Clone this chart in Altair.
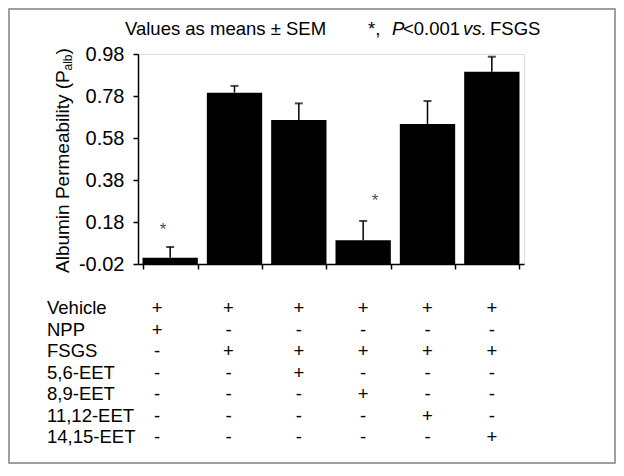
import altair as alt
import pandas as pd

# ---- data ----
groups = ["NPP", "FSGS", "FSGS+5,6-EET", "FSGS+8,9-EET", "FSGS+11,12-EET", "FSGS+14,15-EET"]
means = [0.010, 0.796, 0.666, 0.093, 0.647, 0.896]
sems = [0.051, 0.032, 0.079, 0.092, 0.109, 0.071]
star_groups = ["NPP", "FSGS+8,9-EET"]
star_levels = [0.162, 0.298]

rows = ["Vehicle", "NPP", "FSGS", "5,6-EET", "8,9-EET", "11,12-EET", "14,15-EET"]
signs = [
    ["+", "+", "+", "+", "+", "+"],
    ["+", "-", "-", "-", "-", "-"],
    ["-", "+", "+", "+", "+", "+"],
    ["-", "-", "+", "-", "-", "-"],
    ["-", "-", "-", "+", "-", "-"],
    ["-", "-", "-", "-", "+", "-"],
    ["-", "-", "-", "-", "-", "+"],
]
y_ticks = [-0.02, 0.18, 0.38, 0.58, 0.78, 0.98]

FONT = "Liberation Sans"
W, H = 386, 210

bars_df = pd.DataFrame({"group": groups, "mean": means, "sem": sems})
bars_df["upper"] = bars_df["mean"] + bars_df["sem"]
bars_df["base"] = y_ticks[0]
stars_df = pd.DataFrame({"group": star_groups, "level": star_levels})
table_df = pd.DataFrame(
    [{"row": r, "group": g, "sign": signs[i][j], "col": j}
     for i, r in enumerate(rows) for j, g in enumerate(groups)]
)
rows_df = pd.DataFrame({"row": rows})

xscale = alt.Scale(domain=groups, paddingInner=0.14, paddingOuter=0.07)
yscale = alt.Scale(domain=[y_ticks[0], y_ticks[-1]], nice=False, zero=False)
x_enc = alt.X("group:N", scale=xscale, sort=groups,
              axis=alt.Axis(labels=False, title=None, tickBand="extent", tickSize=5,
                            tickColor="black", tickWidth=1.5, domainColor="black",
                            domainWidth=1.5, grid=False))

base = alt.Chart(bars_df)
bars = base.mark_bar(color="black").encode(
    x=x_enc,
    y=alt.Y("mean:Q", scale=yscale,
            axis=alt.Axis(values=y_ticks, title=None, grid=False,
                          labelExpr="datum.value < 0 ? '-' + format(-datum.value, '.2f') : format(datum.value, '.2f')",
                          tickSize=5, tickColor="black", tickWidth=1.5,
                          domainColor="black", domainWidth=1.5, labelPadding=9,
                          labelFont=FONT, labelFontSize=20, labelColor="black")),
    y2="base:Q",
)
err = base.mark_rule(color="black", strokeWidth=1.5).encode(
    x=alt.X("group:N", scale=xscale, sort=groups), y="mean:Q", y2="upper:Q")
caps = base.mark_tick(color="black", orient="horizontal", size=8, thickness=2).encode(
    x=alt.X("group:N", scale=xscale, sort=groups), y="upper:Q")


def star(g, dx):
    return alt.Chart(stars_df).transform_filter(alt.datum.group == g).mark_text(
        text="*", font=FONT, fontSize=17, color="#505050", baseline="alphabetic", dy=9, dx=dx
    ).encode(x=alt.X("group:N", scale=xscale, sort=groups), y=alt.Y("level:Q", scale=yscale))


plot = alt.layer(bars, err, caps, star(star_groups[0], -7), star(star_groups[1], 12))

# ---- treatment table below the plot ----
row_scale = alt.Scale(type="point", domain=rows, range=[254, 383], padding=0)


def sign_layer(cols, dx):
    return alt.Chart(table_df).transform_filter(
        alt.FieldOneOfPredicate(field="col", oneOf=cols)
    ).mark_text(font=FONT, fontSize=18.5, color="black", baseline="middle", dx=dx).encode(
        x=alt.X("group:N", scale=xscale, sort=groups),
        y=alt.Y("row:N", scale=row_scale, axis=None),
        text="sign:N",
    )


row_labels = alt.Chart(rows_df).mark_text(
    font=FONT, fontSize=18.5, color="black", align="left", baseline="middle"
).encode(x=alt.value(-91), y=alt.Y("row:N", scale=row_scale, axis=None), text="row:N")

table = alt.layer(sign_layer([0], -13), sign_layer([1], -6), sign_layer([2, 3, 4, 5], 0), row_labels)


# ---- title and y-axis title pieces ----
def label(txt, x, y, size=18.5, style="normal", angle=0, align="left"):
    return alt.Chart(alt.Data(values=[{}])).mark_text(
        text=txt, font=FONT, fontSize=size, fontStyle=style, color="black",
        align=align, baseline="alphabetic", angle=angle,
    ).encode(x=alt.value(x), y=alt.value(y))


ty = -19
title = [
    label("Values as means \u00b1 SEM", -13, ty),
    label("*,", 230, ty),
    label("P", 254, ty, style="italic"),
    label("<0.001", 265, ty),
    label("vs.", 325, ty, style="italic"),
    label("FSGS", 352, ty),
]
ytitle = [
    label("Albumin Permeability (P", -68.7, 219, size=19, angle=270),
    label("alb", -66, 16.5, size=12, angle=270),
    label(")", -68.7, 0.5, size=19, angle=270),
]

border = alt.Chart(alt.Data(values=[{}])).mark_rect(
    fill=None, stroke="#808080", strokeWidth=1.5
).encode(x=alt.value(-129), x2=alt.value(W + 91), y=alt.value(-45), y2=alt.value(H + 199))

chart = alt.layer(plot, table, *title, *ytitle, border).resolve_scale(
    y="independent"
).properties(
    width=W, height=H,
    padding={"left": 130, "top": 46, "right": 92, "bottom": 200},
    autosize=alt.AutoSizeParams(type="none"),
).configure_view(stroke=None).configure(background="white")

chart.save("out.html", embed_options={"renderer": "svg", "actions": False})
